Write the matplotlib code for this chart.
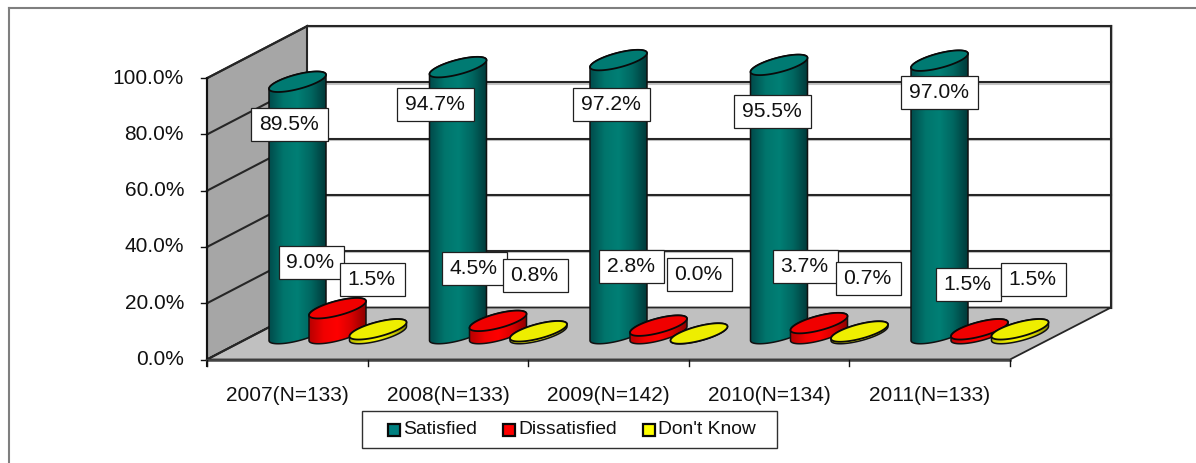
#!/usr/bin/env python3
"""Satisfaction by year, drawn as an oblique 3D cylinder chart."""

import matplotlib
matplotlib.use("Agg")
import matplotlib.pyplot as plt
import numpy as np
from matplotlib.colors import LinearSegmentedColormap
from matplotlib.patches import PathPatch, Polygon, Rectangle
from matplotlib.path import Path

plt.rcParams["font.family"] = ["Liberation Sans", "DejaVu Sans"]

YEARS = ["2007(N=133)", "2008(N=133)", "2009(N=142)", "2010(N=134)", "2011(N=133)"]
SATISFIED = [89.5, 94.7, 97.2, 95.5, 97.0]
DISSATISFIED = [9.0, 4.5, 2.8, 3.7, 1.5]
DONT_KNOW = [1.5, 0.8, 0.0, 0.7, 1.5]
SERIES_NAMES = ["Satisfied", "Dissatisfied", "Don't Know"]
Y_TICKS = [0, 20, 40, 60, 80, 100]

# label box left/top in pixels, hand placed in the original chart
SAT_BOX = [(251, 108), (397, 88), (573, 88), (734, 95), (901, 76)]
DIS_BOX = [(279, 246), (442, 252), (599, 250), (773, 250), (936, 268)]
DK_BOX = [(340, 263), (503, 259), (667, 258), (836, 262), (1001, 263)]

TEAL = ["#004c4c", "#00756c", "#007f75", "#006660", "#003a3a"]
RED = ["#b80000", "#f00000", "#ff0000", "#d80000", "#900000"]
YELLOW = ["#b8b800", "#e8e800", "#f2f200", "#d0d000", "#8a8a00"]
TOPS = ["#007a72", "#f00000", "#eeee00"]
LEGEND_FILL = ["#008080", "#ff0000", "#ffff00"]

WALL = "#a6a6a6"
FLOOR = "#c0c0c0"
LINE = "#262626"
FRAME = "#7f7f7f"

# plot geometry in pixels
X0, X1 = 207, 1010
Y_ZERO, PX_PER_PCT = 359.5, 2.813
DEPTH_X, DEPTH_Y = 104, 52
STEP = (X1 - X0) / len(YEARS)
FIRST_BAR = 297.5
BAR_GAP = 40
HALF_W, SHEAR, BULGE = 28.5, 7.0, 7.5
BASE_Y = 333.5


def y_front(value):
    return Y_ZERO - value * PX_PER_PCT


def ellipse_points(cx, cy, start, stop, n=60):
    t = np.linspace(start, stop, n)
    return np.column_stack([cx + HALF_W * np.cos(t), cy - SHEAR * np.cos(t) + BULGE * np.sin(t)])


def cylinder(ax, cx, value, ramp, top_color, z):
    cy = BASE_Y - value * PX_PER_PCT
    bottom = ellipse_points(cx, BASE_Y, 0, np.pi)
    upper = ellipse_points(cx, cy, np.pi, 2 * np.pi)
    outline = np.vstack([upper, bottom, upper[:1]])
    body = PathPatch(Path(outline), facecolor="none", edgecolor="#101010", linewidth=1.1, zorder=z + 0.2)
    ax.add_patch(body)
    cmap = LinearSegmentedColormap.from_list("ramp", ramp)
    im = ax.imshow(np.linspace(0, 1, 64)[None, :], cmap=cmap, aspect="auto",
                   extent=(cx - HALF_W, cx + HALF_W, BASE_Y + 12, cy - 12), zorder=z + 0.1,
                   interpolation="bilinear")
    im.set_clip_path(body)
    lid = Polygon(ellipse_points(cx, cy, 0, 2 * np.pi, 90), closed=True, facecolor=top_color,
                  edgecolor="#0a0a0a", linewidth=1.3, zorder=z + 0.3)
    ax.add_patch(lid)


def value_box(ax, left, top, text):
    width = 65 if len(text) < 5 else 77
    ax.add_patch(Rectangle((left + 1, top + 1), width, 33, facecolor="#9a9a9a", edgecolor="none", zorder=20))
    ax.add_patch(Rectangle((left, top), width, 33, facecolor="white", edgecolor="#202020",
                           linewidth=0.9, zorder=21))
    ax.text(left + width / 2 - 1, top + 16.5, text, ha="center", va="center", fontsize=15.2, color="#111111", zorder=22)


def walls(ax):
    top_f, base_f = y_front(100), y_front(0)
    ax.add_patch(Polygon([(X0, top_f), (X0 + DEPTH_X - 4, top_f - DEPTH_Y), (X0 + DEPTH_X - 4, base_f - DEPTH_Y),
                          (X0, base_f)], closed=True, facecolor=WALL, edgecolor=LINE, linewidth=1.5, zorder=1))
    ax.add_patch(Polygon([(X0, base_f), (X1, base_f), (X1 + DEPTH_X - 3, base_f - DEPTH_Y),
                          (X0 + DEPTH_X - 4, base_f - DEPTH_Y)], closed=True, facecolor=FLOOR,
                         edgecolor=LINE, linewidth=1.3, zorder=1))
    back_l, back_r = X0 + DEPTH_X - 4, X1 + DEPTH_X - 3
    for tick in Y_TICKS:
        yb = y_front(tick) - DEPTH_Y
        if tick > 0:
            ax.plot([back_l, back_r], [yb + 1.2, yb + 1.2], color="#c4c4c4", linewidth=1.5, zorder=1.4)
            ax.plot([back_l, back_r], [yb, yb], color=LINE, linewidth=1.5, zorder=1.5)
        ax.plot([X0, back_l], [y_front(tick), yb], color=LINE, linewidth=1.5, zorder=1.5)
        ax.plot([X0 - 6, X0], [y_front(tick)] * 2, color="#111111", linewidth=1.0, zorder=2)
        ax.text(184, y_front(tick), f"{tick:.1f}%", ha="right", va="center", fontsize=15, color="#111111")
    ax.plot([back_r + 1.2] * 2, [y_front(100) - DEPTH_Y, y_front(0) - DEPTH_Y], color="#c4c4c4", linewidth=1.5, zorder=1.4)
    ax.plot([back_r] * 2, [y_front(100) - DEPTH_Y, y_front(0) - DEPTH_Y], color=LINE, linewidth=1.5, zorder=1.5)
    ax.plot([back_l] * 2, [y_front(100) - DEPTH_Y, y_front(0) - DEPTH_Y], color=LINE, linewidth=1.4, zorder=1.5)
    ax.plot([X0, X0], [y_front(100), y_front(0) + 6], color="#111111", linewidth=1.5, zorder=2)
    ax.plot([X0, X1], [base_f, base_f], color="#444444", linewidth=1.8, zorder=2)


def legend(ax):
    ax.add_patch(Rectangle((362, 411), 415, 37, facecolor="white", edgecolor="#303030", linewidth=1.0, zorder=3))
    for name, fill, x in zip(SERIES_NAMES, LEGEND_FILL, [388, 503, 643]):
        ax.add_patch(Rectangle((x, 424), 12, 12, facecolor=fill, edgecolor="#0a0a0a", linewidth=1.6, zorder=4))
        ax.text(x + 15, 429.5, name, ha="left", va="center", fontsize=13.9, color="#111111", zorder=4)


def main():
    fig = plt.figure(figsize=(11.96, 4.63), dpi=100)
    ax = fig.add_axes([0, 0, 1, 1])

    ax.plot([9, 9], [7.5, 463], color=FRAME, linewidth=1.5, zorder=1)
    ax.plot([9, 1196], [7.5, 7.5], color=FRAME, linewidth=1.5, zorder=1)

    walls(ax)

    for i, year in enumerate(YEARS):
        cx = FIRST_BAR + i * 160.5
        cylinder(ax, cx, SATISFIED[i], TEAL, TOPS[0], 5 + i)
        cylinder(ax, cx + BAR_GAP, DISSATISFIED[i], RED, TOPS[1], 5.4 + i)
        cylinder(ax, cx + 2 * BAR_GAP + 0.5, DONT_KNOW[i], YELLOW, TOPS[2], 5.7 + i)
        ax.text(X0 + (i + 0.5) * STEP, 395.5, year, ha="center", va="center", fontsize=15, color="#111111")

    for i in range(len(YEARS) + 1):
        x = X0 + i * STEP
        ax.plot([x, x], [Y_ZERO, Y_ZERO + 6], color="#111111", linewidth=1.0, zorder=2)

    for i in range(len(YEARS)):
        value_box(ax, *SAT_BOX[i], f"{SATISFIED[i]:.1f}%")
        value_box(ax, *DIS_BOX[i], f"{DISSATISFIED[i]:.1f}%")
        value_box(ax, *DK_BOX[i], f"{DONT_KNOW[i]:.1f}%")

    legend(ax)

    ax.set_xlim(0, 1196)
    ax.set_ylim(463, 0)
    ax.axis("off")
    fig.savefig("out.png", dpi=100)
    plt.close(fig)


if __name__ == "__main__":
    main()
